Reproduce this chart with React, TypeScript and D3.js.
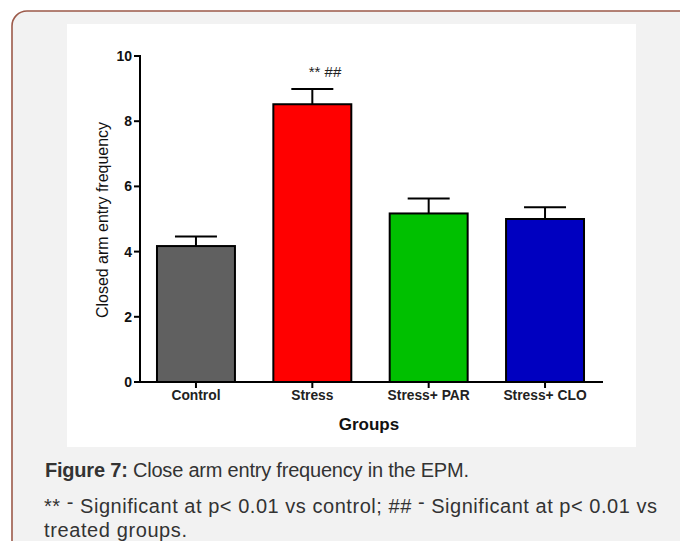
import React from "react";
import * as d3 from "d3";

const categories = ["Control", "Stress", "Stress+ PAR", "Stress+ CLO"];
const means = [4.17, 8.52, 5.17, 5.0];
const sems = [0.29, 0.47, 0.46, 0.36];
const barColors = ["#606060", "#ff0000", "#00c000", "#0000c0"];
const yTicks = [0, 2, 4, 6, 8, 10];
const annotation = "** ##";
const yTitle = "Closed arm entry frequency";
const xTitle = "Groups";
const captionBold = "Figure 7:";
const captionRest = " Close arm entry frequency in the EPM.";
const noteA = "**";
const noteB = "Significant at p< 0.01 vs control; ##";
const noteC = "Significant at p< 0.01 vs";
const noteLine2 = "treated groups.";

export default function App() {
  const W = 680;
  const H = 541;
  const x = d3
    .scaleBand<string>()
    .domain(categories)
    .range([140, 601])
    .paddingInner(0.33)
    .paddingOuter(0.146);
  const y = d3.scaleLinear().domain([0, 10]).range([382, 56]);
  const font = "'Liberation Sans', Arial, sans-serif";

  return (
    <svg
      width={W}
      height={H}
      style={{ position: "absolute", left: 0, top: 0, background: "#ffffff" }}
      fontFamily={font}
    >
      <rect x={12} y={11} width={720} height={620} rx={15} ry={15} fill="#f2f2f2" stroke="#9c5a4a" strokeWidth={1.6} />
      <rect x={67} y={24} width={569} height={423} fill="#ffffff" />

      {/* bars */}
      {categories.map((c, i) => {
        const bx = x(c)!;
        const bw = x.bandwidth();
        const cx = bx + bw / 2;
        const top = y(means[i]);
        const eTop = y(means[i] + sems[i]);
        return (
          <g key={c}>
            <rect x={bx} y={top} width={bw} height={y(0) - top} fill={barColors[i]} stroke="#000" strokeWidth={2} />
            <line x1={cx} x2={cx} y1={top} y2={eTop} stroke="#000" strokeWidth={2} />
            <line x1={cx - 21} x2={cx + 21} y1={eTop} y2={eTop} stroke="#000" strokeWidth={2} />
          </g>
        );
      })}

      {/* y axis */}
      <line x1={140} x2={140} y1={y(10) - 1} y2={y(0) + 1} stroke="#000" strokeWidth={2} />
      {yTicks.map((t) => (
        <g key={t}>
          <line x1={134} x2={140} y1={y(t)} y2={y(t)} stroke="#000" strokeWidth={2} />
          <text x={132} y={y(t) + 5} textAnchor="end" fontSize={14} fontWeight="bold" fill="#111">
            {t}
          </text>
        </g>
      ))}

      {/* x axis */}
      <line x1={134} x2={603} y1={y(0)} y2={y(0)} stroke="#000" strokeWidth={2} />
      {categories.map((c) => {
        const cx = x(c)! + x.bandwidth() / 2;
        return (
          <g key={c}>
            <line x1={cx} x2={cx} y1={y(0)} y2={y(0) + 6} stroke="#000" strokeWidth={2} />
            <text x={cx} y={400} textAnchor="middle" fontSize={13.8} fontWeight="bold" fill="#222">
              {c}
            </text>
          </g>
        );
      })}

      <text x={369} y={430} textAnchor="middle" fontSize={17} fontWeight="bold" fill="#111">
        {xTitle}
      </text>
      <text
        transform={`translate(108,220) rotate(-90)`}
        textAnchor="middle"
        fontSize={16}
        fill="#111"
        textLength={196}
        lengthAdjust="spacingAndGlyphs"
      >
        {yTitle}
      </text>

      <text x={325} y={77} textAnchor="middle" fontSize={15} fill="#222">
        {annotation}
      </text>

      {/* caption */}
      <text x={45} y={477} fontSize={20} fill="#333" textLength={424} lengthAdjust="spacing">
        <tspan fontWeight="bold">{captionBold}</tspan>
        <tspan>{captionRest}</tspan>
      </text>
      <text x={44} y={513} fontSize={20} fill="#333" textLength={613} lengthAdjust="spacing">
        <tspan>{noteA} </tspan>
        <tspan dy={-4}>-</tspan>
        <tspan dy={4}> {noteB} </tspan>
        <tspan dy={-4}>-</tspan>
        <tspan dy={4}> {noteC}</tspan>
      </text>
      <text x={44} y={537} fontSize={20} fill="#333" textLength={143} lengthAdjust="spacing">
        {noteLine2}
      </text>
    </svg>
  );
}
